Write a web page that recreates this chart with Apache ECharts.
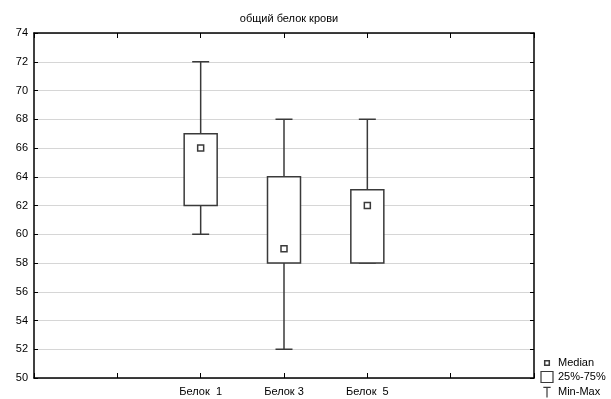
<!DOCTYPE html>
<html>
<head>
<meta charset="utf-8">
<script src="https://cdn.jsdelivr.net/npm/echarts@6/dist/echarts.min.js"></script>
<style>
  html, body { margin: 0; padding: 0; background: #fff; }
  #chart { width: 611px; height: 399px; }
</style>
</head>
<body>
<div id="chart"></div>
<script>
    // категории оси X (пустые места по краям как в Statistica)
    var categories = ['', '', 'Белок  1', 'Белок 3', 'Белок  5', '', ''];
    var groupIndex = [2, 3, 4];
    var minVals = [60, 52, 58];
    var q1Vals = [62, 58, 58];
    var medianVals = [66, 59, 62];
    var q3Vals = [67, 64, 63.1];
    var maxVals = [72, 68, 68];
    var yTicks = [50, 74, 2];

    var font = 'Liberation Sans, Arial, sans-serif';
    var lineColor = '#3a3a3a';

    var boxData = [], whiskerData = [], medianData = [];
    for (var i = 0; i < groupIndex.length; i++) {
        boxData.push([groupIndex[i], q1Vals[i], q3Vals[i]]);
        whiskerData.push([groupIndex[i], minVals[i], q1Vals[i], q3Vals[i], maxVals[i]]);
        medianData.push([groupIndex[i], medianVals[i]]);
    }

    var myChart = echarts.init(document.getElementById('chart'));
    var option = {
        animation: false,
        title: {
            text: 'общий белок крови',
            left: 284,
            textAlign: 'center',
            top: 8,
            textStyle: { fontSize: 11, fontWeight: 'normal', color: '#000', fontFamily: font }
        },
        grid: { left: 34, right: 77, top: 33, bottom: 21 },
        legend: {
            orient: 'vertical',
            left: 539,
            top: 356,
            height: 80,
            padding: 0,
            itemWidth: 12,
            itemHeight: 11,
            itemGap: 0,
            textStyle: { fontSize: 11, lineHeight: 14, color: '#000', fontFamily: font },
            data: [
                { name: 'Median', icon: 'path://M0,0M12,12M3.5,3.5L8.5,3.5L8.5,8.5L3.5,8.5Z',
                  itemStyle: { color: '#fff', borderColor: lineColor, borderWidth: 1.5 } },
                { name: '25%-75%', icon: 'rect',
                  itemStyle: { color: '#fff', borderColor: lineColor, borderWidth: 1.2 } },
                { name: 'Min-Max', icon: 'path://M0,0M12,12M2,1L10,1M6,1L6,12',
                  itemStyle: { color: 'none', borderColor: lineColor, borderWidth: 1.2 } }
            ]
        },
        xAxis: [{
            type: 'category',
            data: categories,
            boundaryGap: false,
            axisLine: { lineStyle: { color: '#000', width: 1.5 } },
            axisTick: { inside: true, length: 5, interval: 0, lineStyle: { color: '#000' } },
            axisLabel: { interval: 0, color: '#000', fontSize: 11, fontFamily: font, margin: 8 },
            splitLine: { show: false }
        }, {
            type: 'category',
            position: 'top',
            data: categories,
            boundaryGap: false,
            axisLine: { lineStyle: { color: '#000', width: 1.5 } },
            axisTick: { inside: true, length: 5, interval: 0, lineStyle: { color: '#000' } },
            axisLabel: { show: false },
            splitLine: { show: false }
        }],
        yAxis: [{
            type: 'value',
            min: yTicks[0],
            max: yTicks[1],
            interval: yTicks[2],
            axisLine: { show: true, lineStyle: { color: '#000', width: 1.5 } },
            axisTick: { show: true, inside: true, length: 4, lineStyle: { color: '#000' } },
            axisLabel: { color: '#000', fontSize: 11, fontFamily: font, margin: 6 },
            splitLine: { show: true, lineStyle: { color: '#d6d6d6', width: 1 } }
        }, {
            type: 'value',
            position: 'right',
            min: yTicks[0],
            max: yTicks[1],
            interval: yTicks[2],
            axisLine: { show: true, lineStyle: { color: '#000', width: 1.5 } },
            axisTick: { show: true, inside: true, length: 4, lineStyle: { color: '#000' } },
            axisLabel: { show: false },
            splitLine: { show: false }
        }],
        series: [{
            name: 'Min-Max',
            type: 'custom',
            data: whiskerData,
            encode: { x: 0, y: [1, 4] },
            z: 2,
            renderItem: function (params, api) {
                var x = api.value(0);
                var pMin = api.coord([x, api.value(1)]);
                var pQ1 = api.coord([x, api.value(2)]);
                var pQ3 = api.coord([x, api.value(3)]);
                var pMax = api.coord([x, api.value(4)]);
                var cx = pMin[0], cap = 8.5;
                var st = { stroke: lineColor, lineWidth: 1.5 };
                return {
                    type: 'group',
                    children: [
                        { type: 'line', shape: { x1: cx, y1: pMin[1], x2: cx, y2: pQ1[1] }, style: st },
                        { type: 'line', shape: { x1: cx, y1: pQ3[1], x2: cx, y2: pMax[1] }, style: st },
                        { type: 'line', shape: { x1: cx - cap, y1: pMin[1], x2: cx + cap, y2: pMin[1] }, style: st },
                        { type: 'line', shape: { x1: cx - cap, y1: pMax[1], x2: cx + cap, y2: pMax[1] }, style: st }
                    ]
                };
            }
        }, {
            name: '25%-75%',
            type: 'custom',
            data: boxData,
            encode: { x: 0, y: [1, 2] },
            z: 3,
            renderItem: function (params, api) {
                var x = api.value(0);
                var lo = api.coord([x, api.value(1)]);
                var hi = api.coord([x, api.value(2)]);
                var w = 33;
                return {
                    type: 'rect',
                    shape: { x: lo[0] - w / 2, y: hi[1], width: w, height: lo[1] - hi[1] },
                    style: { fill: '#fff', stroke: lineColor, lineWidth: 1.5 }
                };
            }
        }, {
            name: 'Median',
            type: 'scatter',
            data: medianData,
            symbol: 'rect',
            symbolSize: 6,
            z: 4,
            itemStyle: { color: '#fff', borderColor: lineColor, borderWidth: 1.5, opacity: 1 }
        }]
    };
    myChart.setOption(option);
</script>
</body>
</html>
